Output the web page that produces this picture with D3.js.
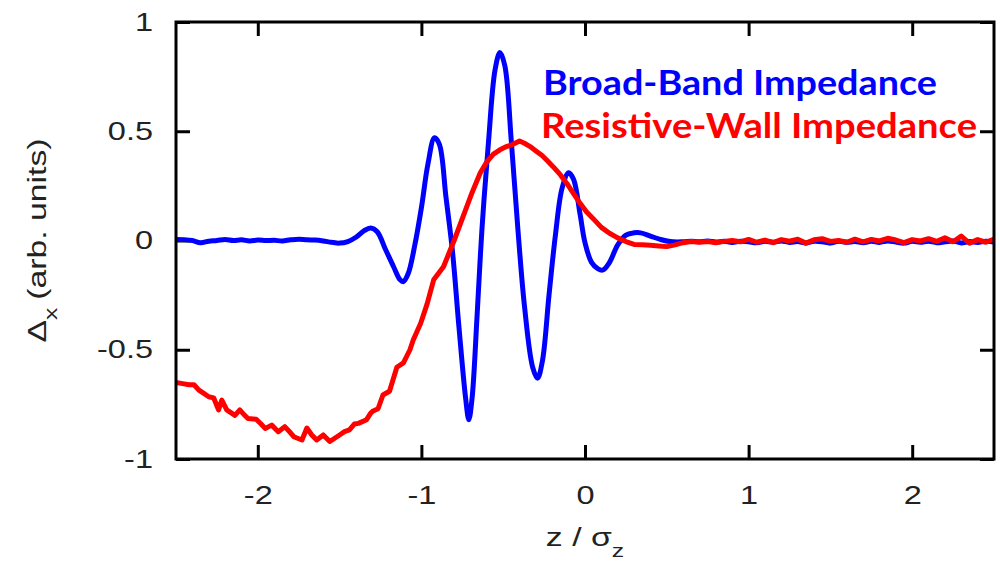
<!DOCTYPE html>
<html>
<head>
<meta charset="utf-8">
<script src="https://cdn.jsdelivr.net/npm/d3@7"></script>
<style>
  html, body { margin: 0; padding: 0; background: #fff; }
  svg { display: block; }
  .tick-label { font-family: "Liberation Sans", Arial, sans-serif; font-size: 25px; fill: #222; }
  .axis-title { font-family: "Liberation Sans", Arial, sans-serif; font-size: 26px; fill: #222; }
  .legend { font-family: Lato, "Open Sans", sans-serif; font-weight: 700; font-size: 35px; }
</style>
</head>
<body>
<svg id="chart" width="1000" height="563"></svg>
<script>
// Broad-band impedance: z positions and kick values
const broadBandZ = [
  -2.50, -2.45, -2.40, -2.35, -2.30, -2.25, -2.20, -2.15, -2.10, -2.05,
  -2.00, -1.95, -1.90, -1.85, -1.80, -1.75, -1.70, -1.65, -1.60, -1.55,
  -1.50, -1.45, -1.40, -1.35, -1.31, -1.27, -1.22, -1.17, -1.13, -1.11,
  -1.08, -1.04, -1.00, -0.96, -0.92, -0.89, -0.85, -0.81, -0.77, -0.73,
  -0.71, -0.69, -0.66, -0.63, -0.59, -0.55, -0.52, -0.49, -0.45, -0.41,
  -0.37, -0.32, -0.29, -0.26, -0.22, -0.18, -0.14, -0.10, -0.07, -0.03,
   0.00,  0.04,  0.08,  0.11,  0.15,  0.20,  0.25,  0.30,  0.34,  0.40,
   0.46,  0.52,  0.60,  0.65,  0.70,  0.75,  0.80,  0.85,  0.90,  0.95,
   1.00,  1.05,  1.10,  1.15,  1.20,  1.25,  1.30,  1.35,  1.40,  1.45,
   1.50,  1.55,  1.60,  1.65,  1.70,  1.75,  1.80,  1.85,  1.90,  1.95,
   2.00,  2.05,  2.10,  2.15,  2.20,  2.25,  2.30,  2.35,  2.40,  2.45,
   2.50
];
const broadBandV = [
   0.005,  0.004,  0.000, -0.010, -0.003,  0.000,  0.005,  0.000,  0.003, -0.002,
   0.002,  0.000,  0.001, -0.002,  0.003,  0.006,  0.003,  0.002, -0.002, -0.008,
  -0.012, -0.005,  0.015,  0.045,  0.057,  0.040, -0.040, -0.120, -0.180, -0.188,
  -0.150, -0.020,  0.150,  0.350,  0.470,  0.440,  0.200, -0.050, -0.400, -0.720,
  -0.820, -0.720, -0.350,  0.050,  0.450,  0.780,  0.860,  0.800,  0.450,  0.050,
  -0.300, -0.580, -0.630, -0.550, -0.250,  0.030,  0.240,  0.310,  0.280,  0.120,
  -0.010, -0.100, -0.130, -0.135, -0.100, -0.020,  0.025,  0.035,  0.035,  0.020,
   0.005, -0.005, -0.006, -0.004, -0.006, -0.002, -0.007, -0.004, -0.009, -0.003,
  -0.006, -0.010, -0.004, -0.008, -0.002, -0.009, -0.005, -0.011, -0.004, -0.006,
  -0.012, -0.003, -0.008, -0.005, -0.010, -0.004, -0.009, -0.002, -0.007, -0.012,
  -0.004, -0.008, -0.003, -0.010, -0.006, -0.002, -0.011, -0.005, -0.009, -0.004,
  -0.007
];

// Resistive-wall impedance: z positions and kick values
const resistiveWallZ = [
  -2.50, -2.46, -2.42, -2.39, -2.36, -2.33, -2.30, -2.27, -2.24, -2.22,
  -2.19, -2.16, -2.14, -2.11, -2.08, -2.06, -2.01, -1.98, -1.955, -1.915,
  -1.875, -1.835, -1.80, -1.78, -1.73, -1.70, -1.67, -1.64, -1.60, -1.56,
  -1.53, -1.50, -1.47, -1.44, -1.41, -1.385, -1.335, -1.31, -1.295, -1.265,
  -1.235, -1.195, -1.15, -1.11, -1.07, -1.05, -1.005, -0.965, -0.925, -0.865,
  -0.80, -0.73, -0.69, -0.64, -0.60, -0.56, -0.52, -0.48, -0.44, -0.40,
  -0.37, -0.335, -0.30, -0.264, -0.23, -0.195, -0.15, -0.11, -0.07, -0.03,
   0.01,  0.05,  0.10,  0.15,  0.20,  0.25,  0.30,  0.35,  0.40,  0.45,
   0.50,  0.55,  0.60,  0.65,  0.70,  0.75,  0.80,  0.85,  0.90,  0.95,
   1.00,  1.05,  1.10,  1.15,  1.20,  1.25,  1.30,  1.35,  1.40,  1.45,
   1.50,  1.55,  1.60,  1.65,  1.70,  1.75,  1.80,  1.85,  1.90,  1.95,
   2.00,  2.05,  2.10,  2.15,  2.20,  2.25,  2.30,  2.35,  2.40,  2.45,
   2.50
];
const resistiveWallV = [
  -0.650, -0.655, -0.660, -0.660, -0.685, -0.700, -0.715, -0.720, -0.775, -0.730,
  -0.775, -0.790, -0.800, -0.775, -0.800, -0.815, -0.818, -0.840, -0.860, -0.845,
  -0.875, -0.852, -0.880, -0.898, -0.913, -0.858, -0.890, -0.913, -0.890, -0.920,
  -0.905, -0.890, -0.875, -0.867, -0.840, -0.837, -0.820, -0.790, -0.780, -0.770,
  -0.707, -0.690, -0.580, -0.560, -0.500, -0.455, -0.380, -0.290, -0.180, -0.120,
   0.000,  0.140,  0.220,  0.310,  0.360,  0.395,  0.415,  0.430,  0.440,  0.455,
   0.445,  0.430,  0.410,  0.390,  0.365,  0.338,  0.300,  0.260,  0.215,  0.170,
   0.130,  0.100,  0.060,  0.033,  0.012, -0.005, -0.018, -0.020, -0.022, -0.025,
  -0.028, -0.020, -0.010, -0.005, -0.008, -0.005, -0.010, -0.004,  0.000, -0.006,
   0.005, -0.008,  0.002, -0.010,  0.004, -0.003,  0.006, -0.012,  0.003,  0.008,
  -0.004,  0.000, -0.008,  0.006, -0.006,  0.005, -0.002,  0.010,  0.002, -0.010,
   0.004, -0.002,  0.008, -0.004,  0.012, -0.006,  0.020, -0.012,  0.004, -0.008,
   0.006
];

const xTicks = [-2, -1, 0, 1, 2];
const yTicks = [-1, -0.5, 0, 0.5, 1];

const svg = d3.select("#chart");
const margin = { left: 176, right: 6, top: 22, bottom: 104 };
const W = 1000, H = 563;
const iw = W - margin.left - margin.right;
const ih = H - margin.top - margin.bottom;

// The plot's fonts run wide: glyphs are stretched along the reading direction
const stretch = 1.3;

const x = d3.scaleLinear().domain([-2.5, 2.5]).range([0, iw]);
const y = d3.scaleLinear().domain([-1, 1]).range([ih, 0]);

const g = svg.append("g").attr("transform", `translate(${margin.left},${margin.top})`);

g.append("clipPath").attr("id", "plot-clip")
  .append("rect").attr("x", 0).attr("y", 0).attr("width", iw).attr("height", ih);

const tickLen = 14;
const fmt = d => d3.format("")(d).replace("−", "-");

// Inward ticks on all four sides
const bottomAxis = d3.axisBottom(x).tickValues(xTicks).tickSizeInner(-tickLen).tickSizeOuter(0)
  .tickFormat(fmt).tickPadding(27);
const topAxis = d3.axisTop(x).tickValues(xTicks).tickSizeInner(-tickLen).tickSizeOuter(0).tickFormat("");
const leftAxis = d3.axisLeft(y).tickValues(yTicks).tickSizeInner(-tickLen).tickSizeOuter(0)
  .tickFormat(fmt).tickPadding(23);
const rightAxis = d3.axisRight(y).tickValues(yTicks).tickSizeInner(-tickLen).tickSizeOuter(0).tickFormat("");

function styleAxis(sel) {
  sel.select(".domain").remove();
  sel.selectAll(".tick line").attr("stroke", "#000").attr("stroke-width", 3);
  sel.selectAll(".tick text").attr("class", "tick-label").attr("fill", "#222")
    .attr("font-size", null).attr("font-family", null)
    .each(function () {
      const t = d3.select(this);
      const tx = +t.attr("x") || 0;
      t.attr("x", tx / stretch).attr("transform", `scale(${stretch},1)`);
    });
}

g.append("g").attr("transform", `translate(0,${ih})`).call(bottomAxis).call(styleAxis);
g.append("g").call(topAxis).call(styleAxis);
g.append("g").call(leftAxis).call(styleAxis);
g.append("g").attr("transform", `translate(${iw},0)`).call(rightAxis).call(styleAxis);
svg.selectAll("g[font-size]").attr("font-size", null).attr("font-family", null);

// Curves
const line = d3.line()
  .x(d => x(d[0]))
  .y(d => y(d[1]))
  .curve(d3.curveCatmullRom.alpha(0.5));

const blueData = broadBandZ.map((z, i) => [z, broadBandV[i]]);
const redData = resistiveWallZ.map((z, i) => [z, resistiveWallV[i]]);

const curves = g.append("g").attr("clip-path", "url(#plot-clip)");
curves.append("path").datum(blueData)
  .attr("d", line).attr("fill", "none").attr("stroke", "#0000ff")
  .attr("stroke-width", 5).attr("stroke-linejoin", "round").attr("stroke-linecap", "round");
curves.append("path").datum(redData)
  .attr("d", line.curve(d3.curveLinear)).attr("fill", "none").attr("stroke", "#ff0000")
  .attr("stroke-width", 5).attr("stroke-linejoin", "round").attr("stroke-linecap", "round");

// Frame
g.append("rect").attr("x", 0).attr("y", 0).attr("width", iw).attr("height", ih)
  .attr("fill", "none").attr("stroke", "#000").attr("stroke-width", 3);

// Legend labels
g.append("text").attr("class", "legend").attr("fill", "#0000ff")
  .attr("x", 543 - margin.left).attr("y", 95 - margin.top)
  .attr("textLength", 394).attr("lengthAdjust", "spacingAndGlyphs")
  .text("Broad-Band Impedance");
g.append("text").attr("class", "legend").attr("fill", "#ff0000")
  .attr("x", 541 - margin.left).attr("y", 138 - margin.top)
  .attr("textLength", 436).attr("lengthAdjust", "spacingAndGlyphs")
  .text("Resistive-Wall Impedance");

// Axis titles
const xt = svg.append("text").attr("class", "axis-title")
  .attr("transform", `translate(${margin.left + x(0)},546) scale(${stretch},1)`)
  .attr("text-anchor", "middle");
xt.append("tspan").text("z / σ");
xt.append("tspan").attr("baseline-shift", "sub").attr("font-size", "19px").text("z");

const yt = svg.append("text").attr("class", "axis-title")
  .attr("transform", `translate(46,${margin.top + y(0)}) rotate(-90) scale(${stretch},1)`)
  .attr("text-anchor", "middle");
yt.append("tspan").text("Δ");
yt.append("tspan").attr("baseline-shift", "sub").attr("font-size", "19px").text("x");
yt.append("tspan").attr("dx", 6).text("(arb. units)");
</script>
</body>
</html>
